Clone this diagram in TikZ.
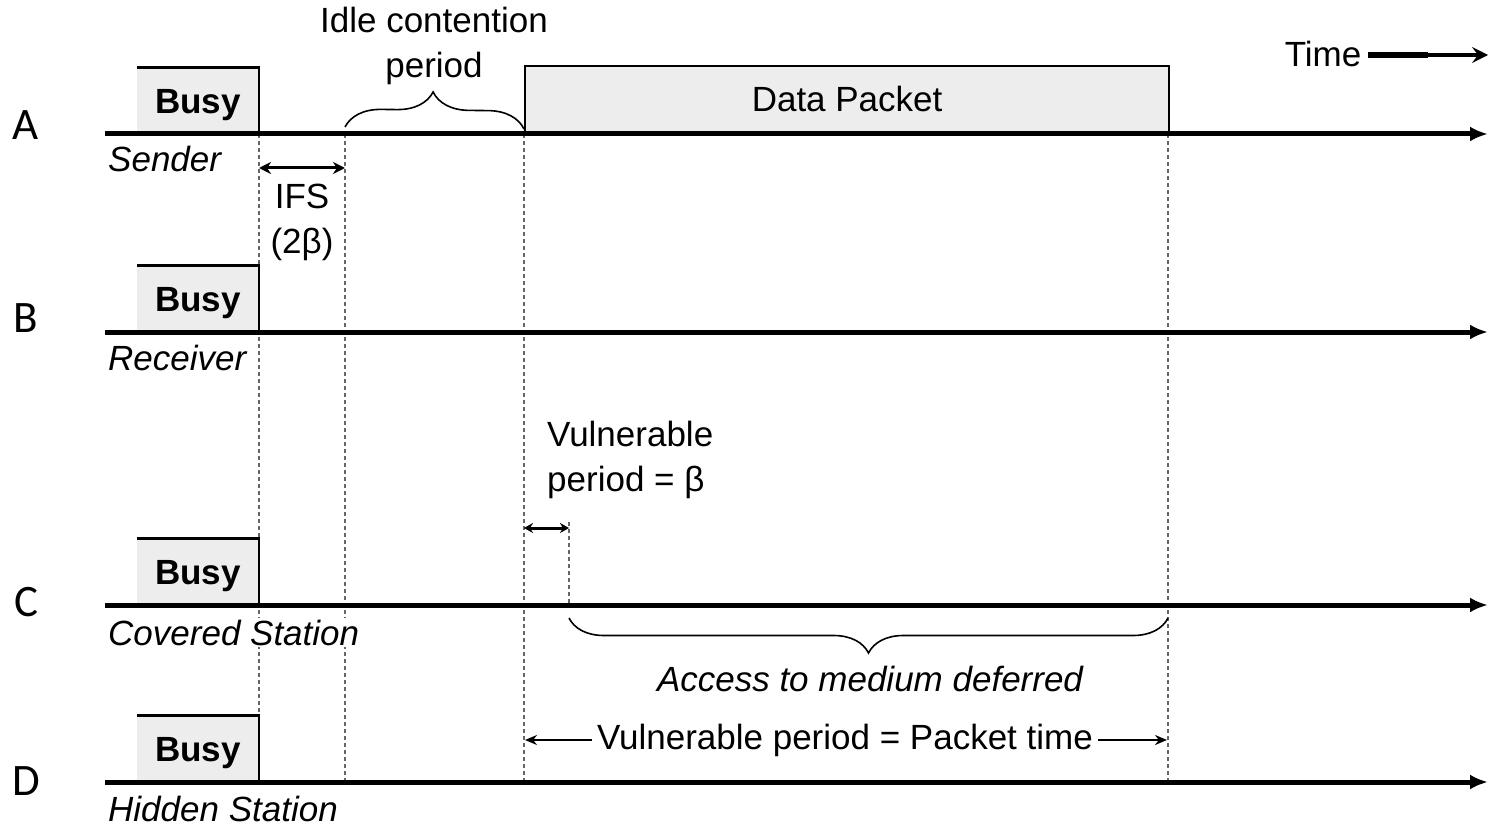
\documentclass[tikz,border=0pt]{standalone}
\usepackage{fontspec}
\setmainfont{Liberation Sans}
\newfontfamily\rowfont{Carlito}
\usetikzlibrary{arrows.meta,decorations.pathreplacing,calc}

\begin{document}
\begin{tikzpicture}[x=1pt,y=-1pt,
  txt/.style={font=\fontsize{35}{45}\selectfont, inner sep=0pt, align=center},
  lbl/.style={font=\fontsize{35}{45}\selectfont\itshape, inner sep=2pt, fill=white, anchor=base west},
  busybox/.style={fill=black!7, minimum width=122pt, minimum height=66pt, inner sep=0pt,
    font=\fontsize{35}{45}\selectfont\bfseries, text height=25pt, text depth=0pt},
  packet/.style={draw, line width=2.2pt, fill=black!7, minimum width=644pt, minimum height=67pt,
    inner sep=0pt, font=\fontsize{35}{45}\selectfont, text height=25pt, text depth=0pt},
  rowletter/.style={font=\fontsize{45}{54}\selectfont\rowfont, inner sep=0pt},
  timeline/.style={line width=5pt, -{Latex[length=18pt,width=15pt]}},
  guide/.style={draw=black!60, line width=1.1pt, dash pattern=on 4pt off 3pt},
  edge/.style={line width=2.4pt},
  span/.style={line width=3pt, {Stealth[length=12pt,width=12pt]}-{Stealth[length=12pt,width=12pt]}},
  oneway/.style={line width=2.2pt, -{Stealth[length=12pt,width=10pt]}},
  bracket/.style={line width=1.6pt, decorate},
]
\useasboundingbox (0,0) rectangle (1488,826);

% vertical dashed guides
\foreach \g/\gx in {1/259,2/345,3/524,4/1168}{
  \coordinate (g\g-top) at (\gx,134);
  \coordinate (g\g-bot) at (\gx,782);
}
\coordinate (g5-top) at (569,522);
\coordinate (g5-bot) at (569,605);
\foreach \g in {1,...,5} \draw[guide] (g\g-top) -- (g\g-bot);

% busy periods of the four stations
\foreach \r/\y in {A/134,B/332,C/605,D/782}{
  \node[busybox, anchor=south east] (busy\r) at (259,\y) {Busy};
  \draw[edge] (busy\r.north west) -- (busy\r.north east) -- (busy\r.south east);
}

% data packet sent by A
\node[packet, anchor=south west] (pkt) at (524,134) {Data Packet};

% time lines
\foreach \r/\y in {A/134,B/332,C/605,D/782}{
  \coordinate (t\r-start) at (105,\y);
  \coordinate (t\r-end) at (1488,\y);
  \draw[timeline] (t\r-start) -- (t\r-end);
}

% station letters
\node[rowletter] (lA) at (26,125) {A};
\node[rowletter] (lB) at (26,318) {B};
\node[rowletter] (lC) at (26,602) {C};
\node[rowletter] (lD) at (26,781) {D};

% station names
\node[lbl] (nA) at (106,172) {Sender};
\node[lbl] (nB) at (106,370) {Receiver};
\node[lbl] (nC) at (106,645) {Covered Station};
\node[lbl] (nD) at (106,821) {Hidden Station};

% interframe space
\coordinate (ifsL) at (259,168);
\coordinate (ifsR) at (345,168);
\draw[span] (ifsL) -- (ifsR);
\node[txt] (ifs) at (302,222) {IFS\\(2β)};

% idle contention period
\coordinate (idleL) at (345,127);
\coordinate (idleR) at (524,129);
\draw[bracket, decoration={brace, amplitude=36pt, aspect=0.49}] (idleL) -- (idleR);
\node[txt] (idle) at (434,46) {Idle contention\\period};

% time axis legend
\node[txt] (time) at (1323,54) {Time};
\coordinate (timeTail) at (1368,55);
\coordinate (timeMid) at (1428,55);
\coordinate (timeTip) at (1488,55);
\draw[line width=6pt] (timeTail) -- (timeMid);
\draw[line width=3.5pt, -{Stealth[length=16pt,width=16pt,inset=6pt]}] (timeMid) -- (timeTip);

% vulnerable period of the covered station
\node[txt, align=left, anchor=west] (vuln) at (547,460) {Vulnerable\\period = β};
\coordinate (vL) at (524,528);
\coordinate (vR) at (569,528);
\draw[line width=3pt, {Stealth[length=9pt,width=10pt]}-{Stealth[length=9pt,width=10pt]}] (vL) -- (vR);

% deferred access
\coordinate (defL) at (569,618);
\coordinate (defR) at (1168,618);
\draw[bracket, decoration={brace, amplitude=35pt, mirror, aspect=0.5}] (defL) -- (defR);
\node[txt, font=\fontsize{35}{45}\selectfont\itshape] (defer) at (870,679) {Access to medium deferred};

% vulnerable period of the hidden station
\node[txt, inner sep=5pt] (vph) at (845,740) {Vulnerable period = Packet time};
\coordinate (vphL) at (525,740);
\coordinate (vphR) at (1167,740);
\draw[oneway] (vph.west) -- (vphL);
\draw[oneway] (vph.east) -- (vphR);
\end{tikzpicture}
\end{document}
